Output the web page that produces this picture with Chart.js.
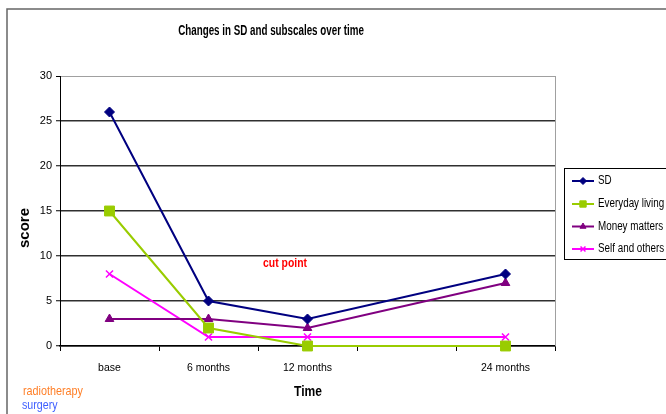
<!DOCTYPE html>
<html>
<head>
<meta charset="utf-8">
<title>Changes in SD and subscales over time</title>
<script src="https://cdn.jsdelivr.net/npm/chart.js@4/dist/chart.umd.min.js"></script>
<style>
  html, body { margin: 0; padding: 0; background: #fff; }
  canvas { display: block; }
</style>
</head>
<body>
<canvas id="chart" width="666" height="414"></canvas>
<script>
// Follow-up points (the fourth slot has no measurement and no label)
const timeLabels = ['base', '6 months', '12 months', '', '24 months'];

// Scores per scale at each follow-up point
const sdScores = [26, 5, 3, null, 8];
const everydayLivingScores = [15, 2, 0, null, 0];
const moneyMattersScores = [3, 3, 2, null, 7];
const selfAndOthersScores = [8, 1, 1, null, 1];

const seriesNames = ['SD', 'Everyday living', 'Money matters', 'Self and others'];
const yTicks = { min: 0, max: 30, step: 5 };

const FONT = "'Liberation Sans', Arial, sans-serif";

function series(label, data, color, style, radius) {
  return {
    label, data,
    borderColor: color,
    backgroundColor: color,
    pointBackgroundColor: color,
    pointBorderColor: color,
    pointStyle: style,
    pointRadius: radius,
    pointBorderWidth: style === 'crossRot' ? 1.5 : 1,
    borderWidth: 2,
    tension: 0,
    spanGaps: true,
    fill: false,
    clip: false
  };
}

const datasets = [
  series(seriesNames[0], sdScores, '#000080', 'rectRot', 5),
  series(seriesNames[1], everydayLivingScores, '#99CC00', 'rect', 7),
  series(seriesNames[2], moneyMattersScores, '#800080', 'triangle', 5),
  series(seriesNames[3], selfAndOthersScores, '#FF00FF', 'crossRot', 5)
];

// Text drawn with a horizontal squeeze to get a condensed face
function drawText(ctx, str, x, y, font, color, align, sx) {
  ctx.save();
  ctx.font = font;
  ctx.fillStyle = color;
  ctx.textAlign = align || 'center';
  ctx.textBaseline = 'middle';
  ctx.translate(x, y);
  ctx.scale(sx || 1, 1);
  ctx.fillText(str, 0, 0);
  ctx.restore();
}

// White page, outer frame, titles, notes and the boxed legend
const decorations = {
  id: 'decorations',
  beforeDraw(chart) {
    const ctx = chart.ctx;
    ctx.save();
    ctx.fillStyle = '#fff';
    ctx.fillRect(0, 0, chart.width, chart.height);
    ctx.strokeStyle = '#666';
    ctx.lineWidth = 1.5;
    ctx.beginPath();
    ctx.moveTo(7, chart.height + 2);
    ctx.lineTo(7, 9);
    ctx.lineTo(chart.width + 2, 9);
    ctx.stroke();
    ctx.restore();
  },
  afterDraw(chart) {
    const ctx = chart.ctx;
    const area = chart.chartArea;

    // right edge of the plot area
    ctx.save();
    ctx.strokeStyle = '#a0a0a0';
    ctx.lineWidth = 1;
    ctx.beginPath();
    ctx.moveTo(area.right + 0.5, area.top);
    ctx.lineTo(area.right + 0.5, area.bottom);
    ctx.stroke();
    ctx.restore();

    drawText(ctx, 'Changes in SD and subscales over time', 271, 31, 'bold 14px ' + FONT, '#000', 'center', 0.7);
    drawText(ctx, 'Time', 308, 392, 'bold 14px ' + FONT, '#000', 'center', 0.86);
    drawText(ctx, 'cut point', 285, 263, 'bold 13px ' + FONT, '#FF0000', 'center', 0.8);
    drawText(ctx, 'radiotherapy', 23, 391, '13px ' + FONT, '#FF7F27', 'left', 0.83);
    drawText(ctx, 'surgery', 22, 405, '13px ' + FONT, '#3F5FFF', 'left', 0.82);

    // vertical axis title
    ctx.save();
    ctx.translate(25, 228);
    ctx.rotate(-Math.PI / 2);
    ctx.font = 'bold 15px ' + FONT;
    ctx.fillStyle = '#000';
    ctx.textAlign = 'center';
    ctx.textBaseline = 'middle';
    ctx.fillText('score', 0, 0);
    ctx.restore();

    // legend
    ctx.save();
    ctx.strokeStyle = '#000';
    ctx.lineWidth = 1;
    ctx.strokeRect(564.5, 168.5, 120, 91);
    ctx.restore();
    const rowY = [181, 204, 226.5, 249];
    chart.data.datasets.forEach((ds, i) => {
      const y = rowY[i];
      ctx.save();
      ctx.strokeStyle = ds.borderColor;
      ctx.lineWidth = 2;
      ctx.beginPath();
      ctx.moveTo(572, y);
      ctx.lineTo(594, y);
      ctx.stroke();
      ctx.fillStyle = ds.pointBackgroundColor;
      ctx.strokeStyle = ds.pointBorderColor;
      ctx.lineWidth = ds.pointBorderWidth;
      const r = ds.pointStyle === 'rect' ? 4.5 : 3.5;
      Chart.helpers.drawPoint(ctx, { pointStyle: ds.pointStyle, radius: r, rotation: 0, borderWidth: ds.pointBorderWidth }, 583, y);
      ctx.restore();
      drawText(ctx, ds.label, 598, y, '12px ' + FONT, '#000', 'left', 0.82);
    });
  }
};

new Chart(document.getElementById('chart'), {
  type: 'line',
  data: { labels: timeLabels, datasets },
  plugins: [decorations],
  options: {
    responsive: false,
    animation: false,
    events: [],
    layout: { padding: { top: 76, right: 111, left: 0, bottom: 0 } },
    plugins: {
      legend: { display: false },
      title: { display: false },
      tooltip: { enabled: false }
    },
    scales: {
      x: {
        type: 'category',
        offset: true,
        grid: { offset: true, drawOnChartArea: false, drawTicks: true, tickLength: 5, tickColor: '#000', tickWidth: 1 },
        border: { display: true, color: '#000', width: 1.5 },
        ticks: { color: '#000', font: { family: FONT, size: 10.5 }, padding: 11, maxRotation: 0, autoSkip: false },
        afterFit(scale) { scale.height = 68; }
      },
      y: {
        min: yTicks.min,
        max: yTicks.max,
        ticks: { stepSize: yTicks.step, color: '#000', font: { family: FONT, size: 11 }, padding: 4 },
        grid: {
          color: c => (c.tick && c.tick.value === yTicks.max) ? '#a0a0a0' : '#303030',
          lineWidth: c => (c.tick && c.tick.value === yTicks.max) ? 1 : 1.5,
          drawTicks: true, tickLength: 4, tickColor: '#000', tickWidth: 1
        },
        border: { display: true, color: '#000', width: 1 },
        afterFit(scale) { scale.width = 60; }
      }
    }
  }
});
</script>
</body>
</html>
